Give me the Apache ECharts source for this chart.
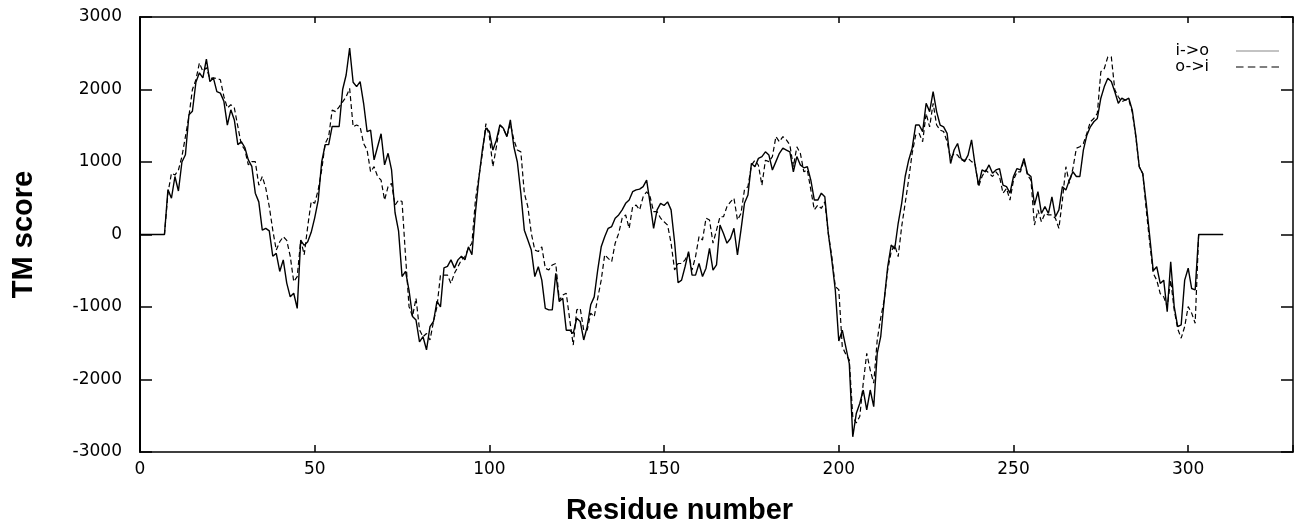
<!DOCTYPE html>
<html>
<head>
<meta charset="utf-8">
<script src="https://cdn.jsdelivr.net/npm/echarts@6/dist/echarts.min.js"></script>
<style>html,body{margin:0;padding:0;background:#fff}#c{width:1295px;height:523px}</style>
</head>
<body>
<div id="c"></div>
<script>
// TM score per residue (index = residue number 0..310)
const io = [
0,0,0,0,0,0,0,0,
620,500,800,600,1000,1100,1650,1700,2100,2230,2160,2420,
2110,2160,1970,1950,1840,1510,1720,1580,1240,1280,
1200,1030,940,570,450,60,85,50,-300,-260,
-510,-350,-670,-860,-810,-1020,-80,-150,-100,30,
230,470,1000,1240,1240,1490,1490,1490,2000,2200,
2570,2100,2040,2110,1810,1420,1440,1030,1210,1390,
960,1120,890,300,50,-580,-510,-770,-1130,-1180,
-1480,-1410,-1590,-1270,-1200,-920,-1000,-460,-440,-350,
-460,-350,-300,-350,-170,-280,300,780,1170,1470,
1420,1165,1300,1510,1465,1350,1580,1210,1000,570,
60,-75,-215,-580,-445,-630,-1020,-1040,-1040,-535,
-925,-880,-1320,-1320,-1365,-1155,-1200,-1455,-1270,-970,
-860,-490,-170,-30,85,110,225,270,340,430,
475,590,615,625,660,750,430,85,340,430,
400,450,340,-100,-665,-630,-445,-235,-560,-560,
-400,-580,-465,-190,-490,-420,130,15,-120,-55,
85,-280,60,430,545,980,935,1050,1075,1140,
1095,890,1005,1120,1190,1165,1140,865,1075,960,
920,935,750,475,475,570,520,15,-350,-765,
-1470,-1320,-1550,-1780,-2790,-2470,-2330,-2145,-2420,-2145,
-2375,-1640,-1410,-905,-445,-145,-200,155,430,800,
1025,1190,1510,1510,1420,1810,1695,1970,1695,1510,
1485,1395,980,1165,1255,1050,1005,1095,1305,960,
680,890,865,960,845,890,910,680,660,570,
800,910,890,1050,840,800,405,590,290,385,
290,520,245,340,660,615,750,865,800,800,
1165,1370,1485,1555,1600,1880,2040,2155,2110,1970,
1810,1880,1855,1880,1715,1370,935,840,430,-30,
-500,-445,-675,-630,-1065,-375,-995,-1270,-1245,-630,
-465,-745,-765,0,0,0,0,0,0,0,0
];
const oi = [
0,0,0,0,0,0,0,0,
570,845,820,890,1075,1350,1630,2000,2135,2365,2250,2300,
2150,2160,2150,2135,1905,1745,1790,1745,1490,1240,
1170,960,1005,1005,680,800,640,385,60,-215,
-100,-30,-80,-300,-650,-580,-75,-280,110,455,
430,615,890,1255,1350,1715,1695,1760,1830,1900,
2015,1485,1510,1485,1255,1165,865,935,800,750,
475,660,705,405,475,455,-300,-995,-1130,-880,
-1315,-1410,-1365,-1455,-1200,-995,-560,-560,-560,-675,
-535,-445,-350,-305,-190,-120,475,800,1120,1530,
1350,935,1210,1510,1465,1350,1530,1305,1165,1140,
570,385,15,-215,-235,-170,-465,-490,-420,-400,
-905,-835,-810,-1180,-1525,-1040,-1020,-1320,-1320,-1085,
-1135,-880,-630,-280,-330,-375,-120,15,225,270,
85,385,405,340,520,590,520,315,315,225,
175,130,-120,-490,-400,-400,-350,-260,-490,-305,
-30,-75,225,200,-120,60,245,245,385,450,
500,200,290,615,660,955,1025,955,680,1025,
1005,1075,1350,1280,1350,1305,1235,935,1210,1120,
865,890,615,340,405,360,450,15,-305,-720,
-760,-1550,-1650,-1730,-2510,-2600,-2510,-2050,-1640,-1870,
-2050,-1455,-1150,-905,-490,-235,-145,-305,110,430,
760,1120,1370,1395,1280,1670,1485,1810,1510,1440,
1420,1280,1050,1120,1095,1025,1025,1050,1005,980,
660,800,890,845,800,865,800,570,635,475,
750,865,865,1025,820,750,130,340,175,290,
270,270,225,85,475,935,705,910,1190,1210,
1255,1395,1555,1600,1670,2245,2290,2450,2450,1995,
1900,1830,1855,1855,1690,1350,935,840,340,-120,
-535,-630,-815,-860,-995,-630,-1040,-1300,-1430,-1270,
-995,-1085,-1225,0,0,0,0,0,0,0,0
];
const seriesNames = ['i->o', 'o->i'];
const xTickLabels = [0, 50, 100, 150, 200, 250, 300];
const yTickLabels = [-3000, -2000, -1000, 0, 1000, 2000, 3000];

const toPairs = arr => arr.map((v, i) => [i, v]);
const tickFont = {fontFamily: 'DejaVu Sans', fontSize: 17, color: '#000'};
const solidIcon = 'path://M0,0h40v1h-40z';
const dashIcon = 'path://M0,0h7v1h-7z M11,0h7v1h-7z M22,0h7v1h-7z M33,0h7v1h-7z';

const chart = echarts.init(document.getElementById('c'), null, {renderer: 'canvas'});
chart.setOption({
  animation: false,
  backgroundColor: '#fff',
  grid: {left: 140, right: 2, top: 17, bottom: 71, containLabel: false, outerBoundsMode: 'none'},
  legend: {
    orient: 'vertical', right: 16, top: 43, align: 'right',
    itemWidth: 43, itemHeight: 1.5, itemGap: 0, padding: 0,
    data: [
      {name: seriesNames[0], icon: solidIcon, itemStyle: {color: '#888'}},
      {name: seriesNames[1], icon: dashIcon, itemStyle: {color: '#000'}}
    ],
    textStyle: {fontFamily: 'DejaVu Sans', fontSize: 16, lineHeight: 14, color: '#000', padding: [0, 22, 0, 0]}
  },
  xAxis: [{
    type: 'value', min: 0, max: 330, interval: 50, position: 'bottom',
    name: 'Residue number', nameLocation: 'middle', nameGap: 44,
    nameTextStyle: {fontFamily: 'Liberation Sans', fontWeight: 'bold', fontSize: 29, color: '#000', padding: [0, 74, 0, 0]},
    axisLine: {show: true, onZero: false, lineStyle: {color: '#000', width: 1.5}},
    axisTick: {show: true, inside: true, length: 7, lineStyle: {color: '#000', width: 1.5}},
    axisLabel: Object.assign({margin: 9, formatter: v => xTickLabels.includes(v) ? String(v) : ''}, tickFont),
    splitLine: {show: false}
  }, {
    type: 'value', min: 0, max: 330, interval: 50, position: 'top',
    axisLine: {show: true, onZero: false, lineStyle: {color: '#000', width: 1.5}},
    axisTick: {show: true, inside: true, length: 6, lineStyle: {color: '#000', width: 1.5}},
    axisLabel: {show: false}, splitLine: {show: false}
  }],
  yAxis: [{
    type: 'value', min: -3000, max: 3000, interval: 1000, position: 'left',
    name: 'TM score', nameLocation: 'middle', nameGap: 102, nameRotate: 90,
    nameTextStyle: {fontFamily: 'Liberation Sans', fontWeight: 'bold', fontSize: 29, color: '#000'},
    axisLine: {show: true, onZero: false, lineStyle: {color: '#000', width: 2}},
    axisTick: {show: true, inside: true, length: 12, lineStyle: {color: '#000', width: 1.5}},
    axisLabel: Object.assign({margin: 18, formatter: v => yTickLabels.includes(v) ? String(v) : ''}, tickFont),
    splitLine: {show: false}
  }, {
    type: 'value', min: -3000, max: 3000, interval: 1000, position: 'right',
    axisLine: {show: true, onZero: false, lineStyle: {color: '#000', width: 1.5}},
    axisTick: {show: true, inside: true, length: 12, lineStyle: {color: '#000', width: 1.5}},
    axisLabel: {show: false}, splitLine: {show: false}
  }],
  series: [{
    name: seriesNames[0], type: 'line', data: toPairs(io),
    xAxisIndex: 0, yAxisIndex: 0, symbol: 'none', z: 3,
    lineStyle: {color: '#000', width: 1.4, type: 'solid'},
    itemStyle: {color: '#000'}
  }, {
    name: seriesNames[1], type: 'line', data: toPairs(oi),
    xAxisIndex: 0, yAxisIndex: 0, symbol: 'none', z: 2,
    lineStyle: {color: '#000', width: 1.2, type: [5, 3]},
    itemStyle: {color: '#000'}
  }]
});
</script>
</body>
</html>
